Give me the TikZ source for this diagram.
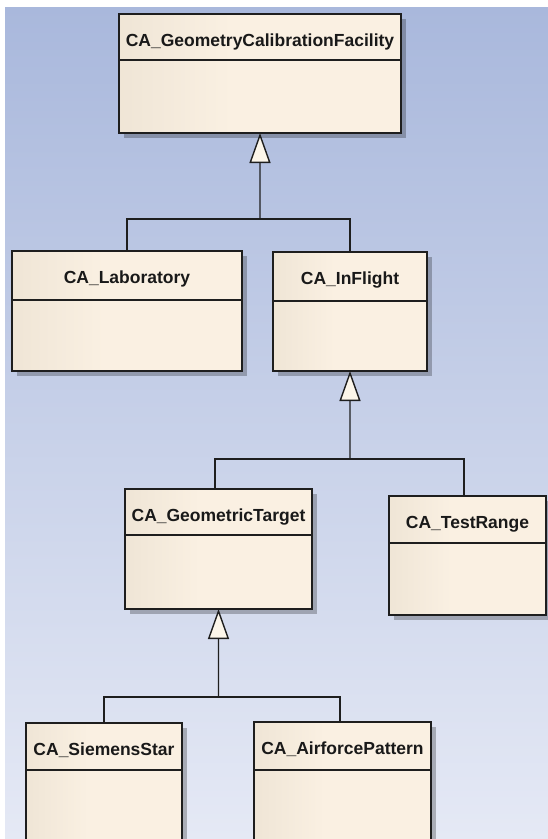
\documentclass[tikz,border=0pt]{standalone}
\usepackage{fontspec}
\setmainfont{Liberation Sans}
\usetikzlibrary{arrows.meta,shadows,calc}
\definecolor{bgtop}{RGB}{169,184,220}
\definecolor{bgbot}{RGB}{229,233,245}
\definecolor{boxL}{RGB}{226,216,199}
\definecolor{boxR}{RGB}{250,240,226}
\definecolor{edge}{RGB}{30,30,30}
\definecolor{tri}{RGB}{252,246,234}
\pgfdeclarehorizontalshading{boxshade}{100bp}{color(0bp)=(boxL); color(45bp)=(boxR); color(100bp)=(boxR)}
\tikzset{
 umlbox/.style={draw=edge, line width=1.4bp, shade, shading=boxshade, inner sep=0pt, outer sep=0pt,
   drop shadow={shadow xshift=5bp, shadow yshift=-5bp, fill=black, opacity=0.25}},
 sepline/.style={draw=edge, line width=1.4bp},
 title/.style={anchor=base, inner sep=0pt, font=\fontsize{17.5bp}{20bp}\selectfont\bfseries, text=black!90},
 conn/.style={draw=edge, line width=1.4bp},
 gen/.style={conn, -{Triangle[width=21bp, length=30bp, fill=tri]}},
}
\newcommand\umlcls[7]{%
 \node[umlbox, minimum width=#4bp, minimum height=#5bp, anchor=north west] (#1) at (#2,#3) {};
 \draw[sepline] ($(#1.north west)+(0,#6)$) -- ($(#1.north east)+(0,#6)$);
 \node[title] (#1-t) at ($(#1.north)+(0,32)$) {#7};
}
\begin{document}
\begin{tikzpicture}[x=1bp,y=-1bp]
\useasboundingbox (0,0) rectangle (548,839);
\fill[white] (0,0) rectangle (548,839);
\shade[top color=bgtop, bottom color=bgbot] (5,7) rectangle (548,839);
\clip (0,0) rectangle (548,839);

\umlcls{gcf}{119}{14}{282}{119}{46}{CA\_GeometryCalibrationFacility}
\umlcls{lab}{12}{251}{230}{120}{49}{CA\_Laboratory}
\umlcls{inf}{273}{252}{154}{119}{49}{CA\_InFlight}
\umlcls{gt}{125}{489}{187}{120}{46}{CA\_GeometricTarget}
\umlcls{tr}{389}{496}{157}{119}{47}{CA\_TestRange}
\umlcls{ss}{26}{723}{156}{140}{47}{CA\_SiemensStar}
\umlcls{ap}{254}{722}{177}{140}{48}{CA\_AirforcePattern}

\coordinate (j1) at (260,219);
\coordinate (j2) at (350,459);
\coordinate (j3) at (218.5,697);

\draw[gen] (j1) -- (gcf.south);
\draw[conn] (lab.north) |- (j1) -| (inf.north);

\draw[gen] (j2) -- (inf.south);
\draw[conn] ([xshift=-3.5bp]gt.north) |- (j2) -| ([xshift=-3.5bp]tr.north);

\draw[gen] (j3) -- (gt.south);
\draw[conn] (ss.north) |- (j3) -| ([xshift=-2.5bp]ap.north);
\end{tikzpicture}
\end{document}
